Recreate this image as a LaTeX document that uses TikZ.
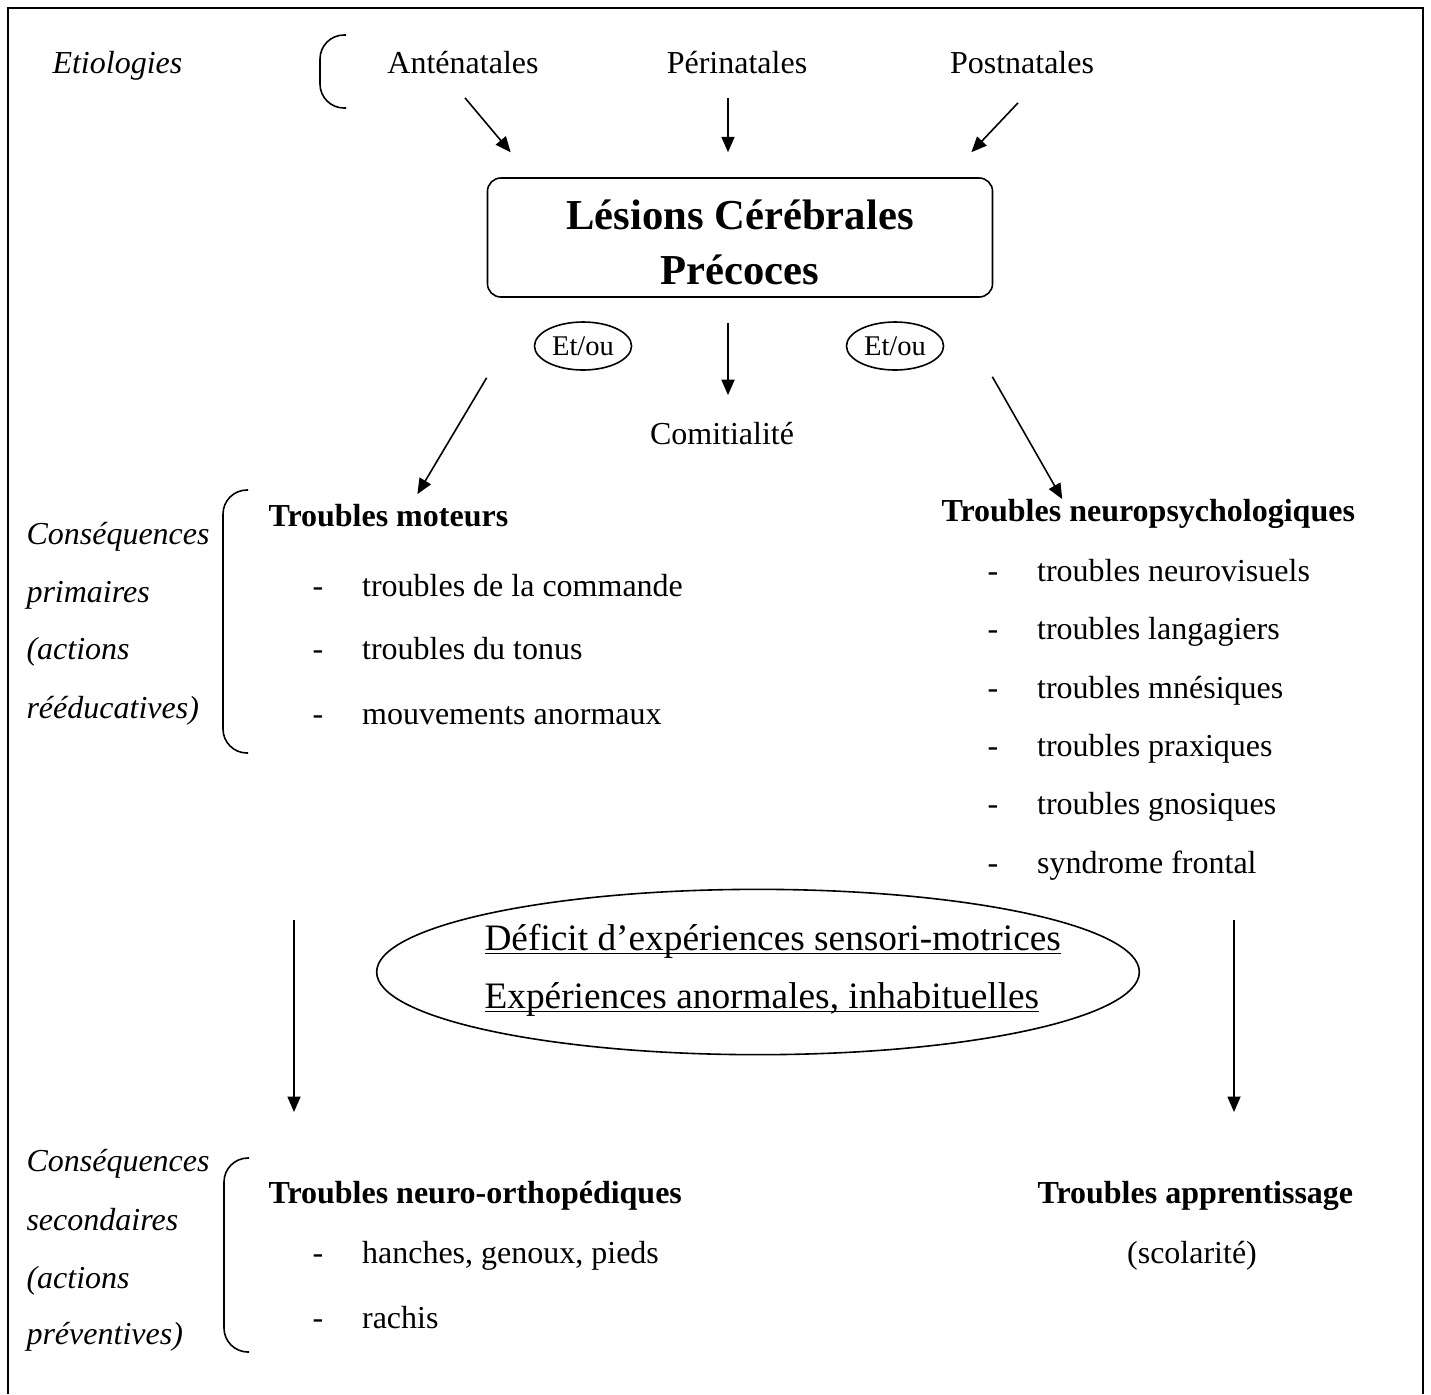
\documentclass[tikz,border=0pt]{standalone}
\usepackage{fontspec}
\setmainfont{Liberation Serif}
\usetikzlibrary{arrows.meta, positioning, shapes.geometric, calc}

\newcommand{\tiret}[1]{\makebox[1.55em][l]{-}#1}
\newcommand{\souligne}[1]{\underline{\smash{#1}}}

\begin{document}
\begin{tikzpicture}[x=0.375pt, y=-0.375pt,
    font=\fontsize{12}{14}\selectfont,
    txt/.style={inner sep=0pt, text height=0.75em, text depth=0.25em},
    lbl/.style={txt, anchor=west, font=\fontsize{12}{14}\selectfont\itshape},
    hd/.style={txt, anchor=west, font=\fontsize{12}{14}\selectfont\bfseries},
    itm/.style={txt, anchor=west},
    ul/.style={inner sep=0pt, anchor=base west, font=\fontsize{14}{17}\selectfont},
    arr/.style={-{Triangle[length=5.8pt,width=4.9pt]}, line width=0.6pt},
    brk/.style={line width=0.6pt, rounded corners=9pt},
    etou/.style={draw, ellipse, line width=0.6pt, inner sep=0pt, minimum width=36.4pt,
      minimum height=18pt, font=\fontsize{10.7}{12}\selectfont}]
    \useasboundingbox (0,0) rectangle (1431,1394);
    % Frame (open at the bottom)
    \draw[line width=0.9pt] (8,1394) -- (8,8) -- (1423,8) -- (1423,1394);
    % Etiologies
    \node[lbl] (etio) at (52,67) {Etiologies};
    \draw[brk] (346,35) -- (320,35) -- (320,108) -- (346,108);
    \node[txt] (ante) at (463,67) {Anténatales};
    \node[txt] (peri) at (737,67) {Périnatales};
    \node[txt] (post) at (1022,67) {Postnatales};
    % Central box
    \node[draw, rounded corners=5pt, line width=0.6pt, inner sep=2pt, minimum width=189.4pt, minimum height=44.6pt,
      align=center, font=\fontsize{16}{20.6}\selectfont\bfseries] (lcp) at (740,237.5)
      {\rule{0pt}{14.75pt}Lésions Cérébrales\\Précoces};
    \draw[arr] ($(ante.south)+(2,17)$) -- ($(lcp.north west)+(24,-25)$);
    \draw[arr] ($(peri.south)+(-9,17)$) -- ($(lcp.north)+(-12,-25)$);
    \draw[arr] ($(post.south)+(-4,22)$) -- ($(lcp.north east)+(-22,-25)$);
    % Et/ou and comitialite
    \node[etou] (etl) at (583,346) {Et/ou};
    \node[etou] (etr) at (895,346) {Et/ou};
    \node[txt] (comit) at (722,438) {Comitialité};
    \draw[arr] ($(lcp.south)+(-12,25)$) -- ($(comit.north)+(6,-29)$);
    % Primary consequences
    \node[lbl] (cp1) at (26,538) {Conséquences};
    \node[lbl] (cp2) at (26,596) {primaires};
    \node[lbl] (cp3) at (26,653) {(actions};
    \node[lbl] (cp4) at (26,712) {rééducatives)};
    \draw[brk] (248,490) -- (223,490) -- (223,753) -- (248,753);
    \node[hd] (mot) at (268,520) {Troubles moteurs};
    \node[itm] (mot1) at (312,590) {\tiret{troubles de la commande}};
    \node[itm] (mot2) at (312,653) {\tiret{troubles du tonus}};
    \node[itm] (mot3) at (312,718) {\tiret{mouvements anormaux}};
    \node[hd] (neu) at (941,515) {Troubles neuropsychologiques};
    \node[itm] (neu1) at (987,575) {\tiret{troubles neurovisuels}};
    \node[itm] (neu2) at (987,633) {\tiret{troubles langagiers}};
    \node[itm] (neu3) at (987,692) {\tiret{troubles mnésiques}};
    \node[itm] (neu4) at (987,750) {\tiret{troubles praxiques}};
    \node[itm] (neu5) at (987,808) {\tiret{troubles gnosiques}};
    \node[itm] (neu6) at (987,867) {\tiret{syndrome frontal}};
    \draw[arr] ($(lcp.south west)+(0,80)$) -- ($(mot.north)+(29,-12)$);
    \draw[arr] ($(lcp.south east)+(-1,79)$) -- ($(neu.north)+(-86,-2)$);
    % Sensori-motor experiences
    \node[draw, ellipse, line width=0.6pt, minimum width=286pt, minimum height=62pt] (sens) at (758,972) {};
    \node[ul] (def1) at (484,950) {\souligne{Déficit d’expériences sensori-motrices}};
    \node[ul] (def2) at (484,1008) {\souligne{Expériences anormales, inhabituelles}};
    % Secondary consequences
    \node[lbl] (cs1) at (26,1165) {Conséquences};
    \node[lbl] (cs2) at (26,1224) {secondaires};
    \node[lbl] (cs3) at (26,1282) {(actions};
    \node[lbl] (cs4) at (26,1338) {préventives)};
    \draw[brk] (249,1158) -- (224,1158) -- (224,1352) -- (249,1352);
    \node[hd] (orth) at (268,1197) {Troubles neuro-orthopédiques};
    \node[itm] (ort1) at (312,1257) {\tiret{hanches, genoux, pieds}};
    \node[itm] (ort2) at (312,1322) {\tiret{rachis}};
    \node[hd] (appr) at (1037,1197) {Troubles apprentissage};
    \node[txt] (scol) at (1192,1257) {(scolarité)};
    \draw[arr] ($(mot3.west)+(-18,202)$) -- ($(orth.west)+(26,-85)$);
    \draw[arr] ($(neu6.west)+(247,53)$) -- ($(appr.west)+(197,-85)$);
  \end{tikzpicture}
\end{document}
